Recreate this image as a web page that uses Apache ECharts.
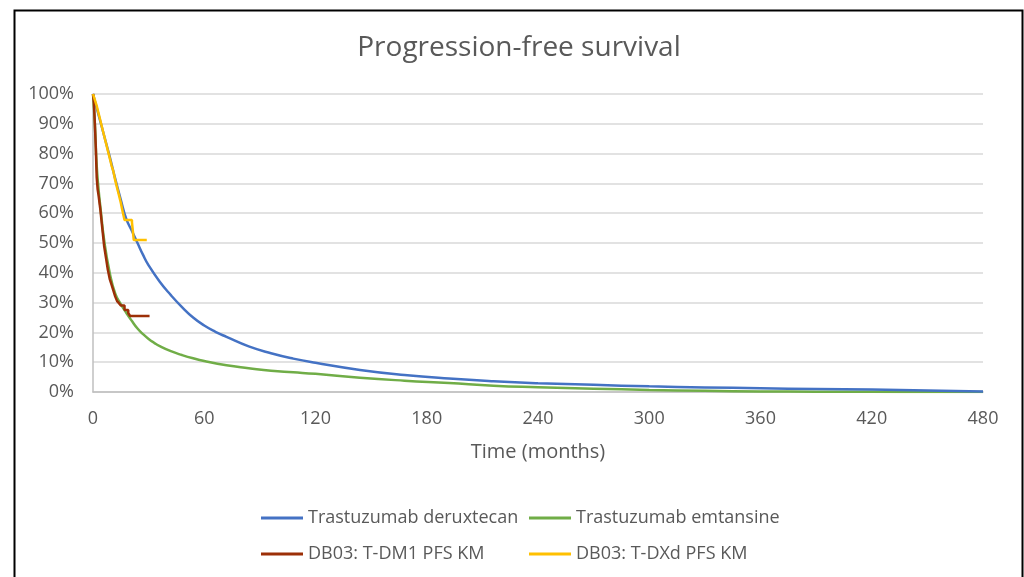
<!DOCTYPE html>
<html>
<head>
<meta charset="utf-8">
<script src="https://cdn.jsdelivr.net/npm/echarts@6/dist/echarts.min.js"></script>
<style>
html,body{margin:0;padding:0;background:#fff;}
#chart{width:1024px;height:577px;}
</style>
</head>
<body>
<div id="chart"></div>
<script>
// ---- data ----
const xTicks = [0, 60, 120, 180, 240, 300, 360, 420, 480];
const seriesNames = ['Trastuzumab deruxtecan', 'Trastuzumab emtansine', 'DB03: T-DM1 PFS KM', 'DB03: T-DXd PFS KM'];

const blueTime = [0,3,6,9,12,15,18,21,24,27,30,36,42,48,54,60,66,72,84,96,108,120,144,168,192,216,240,270,300,330,360,390,420,450,480];
const blueVals = [100,93,86,79,71.5,64.5,58,54,50,46,42.5,37,32.5,28.5,25,22.3,20.2,18.5,15.3,13,11.2,9.8,7.4,5.7,4.5,3.6,2.95,2.4,1.9,1.55,1.25,1.0,0.8,0.5,0.15];

const greenTime = [0,1,2,3,4,6,9,12,15,18,21,24,27,30,33,36,42,48,54,60,72,84,96,108,120,144,168,192,216,240,270,300,330,360,390,420,450,480];
const greenVals = [100,90,76,68,62,51,40,33,29.5,26.5,23.8,21.3,19.4,17.8,16.5,15.4,13.7,12.4,11.3,10.4,9.0,8.0,7.1,6.6,6.1,4.8,3.8,3.0,2.1,1.6,1.1,0.7,0.4,0.2,0.1,0.05,0.02,0];

const redTime = [0,0.5,1,1.5,2,2.5,3,4,5,6,7,8,9,10,11,12,13,14,15,17,19,20,30.5];
const redVals = [100,97,90,82,72,68,66,61,55,49,45,41,38,36,34,32,30.5,29.8,29,27.5,26.5,25.5,25.5];

const yellowTime = [0,1,2,3,4,5,6,7,8,9,10,11,12,13,14,15,16,17,21,22,29];
const yellowVals = [100,98,96,93.5,91,88.5,86,83.5,81,78.5,76,74,71,68.5,66,63.5,60.5,57.7,57,51,51];

const colors = ['#4472C4', '#70AD47', '#9C2F07', '#FFC000'];

function pairs(t, v) { return t.map((x, i) => [x, v[i]]); }

const chart = echarts.init(document.getElementById('chart'), null, {renderer: 'canvas'});
const txt = '#595959';
const font = 'Open Sans';

function legendAt(name, left, top) {
  return {
    data: [name], left: left, top: top, orient: 'horizontal',
    icon: 'rect', itemWidth: 42, itemHeight: 3, itemGap: 0,
    textStyle: {color: txt, fontSize: 18, fontFamily: font},
    selectedMode: false
  };
}

const option = {
  animation: false,
  backgroundColor: '#fff',
  color: colors,
  title: {
    text: 'Progression-free survival',
    left: 514, top: 29, textAlign: 'center',
    textStyle: {color: txt, fontSize: 28, fontWeight: 'normal', fontFamily: font}
  },
  grid: {left: 93, right: 41, top: 94, bottom: 185, containLabel: false},
  legend: [
    legendAt(seriesNames[0], 256, 504),
    legendAt(seriesNames[1], 524, 504),
    legendAt(seriesNames[2], 256, 540),
    legendAt(seriesNames[3], 524, 540)
  ],
  xAxis: {
    type: 'value', min: 0, max: 480, interval: 60,
    name: 'Time (months)', nameLocation: 'middle', nameGap: 50,
    nameTextStyle: {color: txt, fontSize: 20, fontFamily: font},
    axisLine: {show: true, lineStyle: {color: '#BFBFBF', width: 1.5}},
    axisTick: {show: false},
    splitLine: {show: false},
    axisLabel: {color: txt, fontSize: 18, fontFamily: font, margin: 18,
      formatter: v => xTicks.includes(v) ? String(v) : ''}
  },
  yAxis: {
    type: 'value', min: 0, max: 100, interval: 10,
    axisLine: {show: true, lineStyle: {color: '#BFBFBF', width: 1.5}},
    axisTick: {show: false},
    splitLine: {show: true, lineStyle: {color: '#D9D9D9', width: 1.5}},
    axisLabel: {color: txt, fontSize: 18, fontFamily: font, margin: 19, formatter: '{value}%'}
  },
  series: [
    {name: seriesNames[0], type: 'line', data: pairs(blueTime, blueVals), showSymbol: false,
      smooth: 0.5, lineStyle: {width: 2.5, color: colors[0]}, z: 2},
    {name: seriesNames[1], type: 'line', data: pairs(greenTime, greenVals), showSymbol: false,
      smooth: 0.5, lineStyle: {width: 2.5, color: colors[1]}, z: 1},
    {name: seriesNames[2], type: 'line', data: pairs(redTime, redVals), showSymbol: false,
      step: 'end', lineStyle: {width: 2.5, color: colors[2]}, z: 3},
    {name: seriesNames[3], type: 'line', data: pairs(yellowTime, yellowVals), showSymbol: false,
      step: 'end', lineStyle: {width: 2.5, color: colors[3]}, z: 4}
  ],
  graphic: [{
    type: 'rect', left: 12, top: 8, silent: true,
    shape: {x: 0, y: 0, width: 1008, height: 600},
    style: {fill: 'none', stroke: '#000', lineWidth: 2}
  }]
};
chart.setOption(option);
</script>
</body>
</html>
